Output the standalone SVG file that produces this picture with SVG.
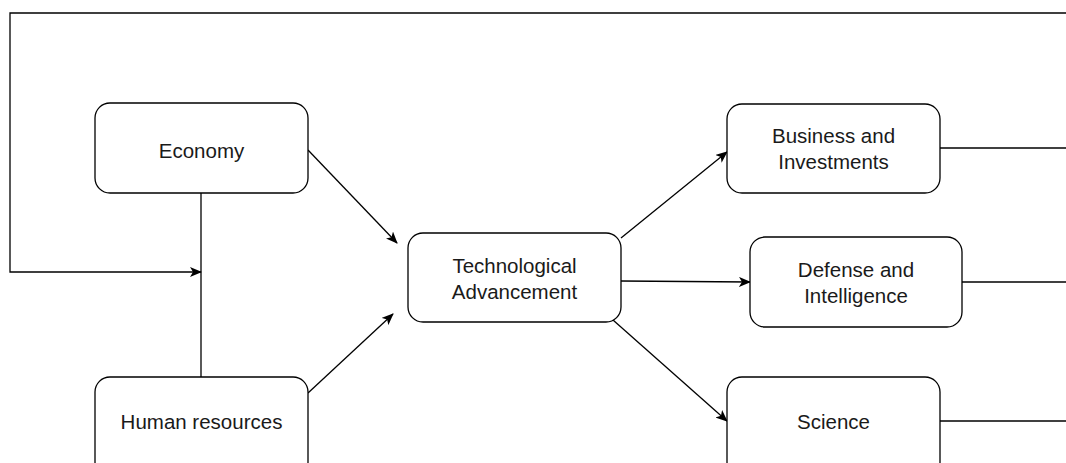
<svg xmlns="http://www.w3.org/2000/svg" width="1066" height="463" viewBox="0 0 1066 463">
<style>
.box{fill:#fff;stroke:#000;stroke-width:1.3}
.t{font-family:"Liberation Sans",Arial,sans-serif;font-size:20.5px;fill:#1a1a1a;text-anchor:middle}
.c{fill:none;stroke:#000;stroke-width:1.3}
</style>
<defs>
<marker id="ah" viewBox="0 0 12 10" refX="11" refY="5" markerWidth="12" markerHeight="10" markerUnits="userSpaceOnUse" orient="auto">
<path d="M0,0 L12,5 L0,10 L3,5 Z" fill="#000"/>
</marker>
</defs>
<rect width="1066" height="463" fill="#fff"/>
<g id="connectors">
<path class="c" d="M1066,13 L10,13 L10,272 L201,272" marker-end="url(#ah)"/>
<path class="c" d="M201,193 L201,377"/>
<path class="c" d="M308,150 L397,243" marker-end="url(#ah)"/>
<path class="c" d="M308,393 L393,314" marker-end="url(#ah)"/>
<path class="c" d="M621,238 L727,152" marker-end="url(#ah)"/>
<path class="c" d="M621,281 L750,282" marker-end="url(#ah)"/>
<path class="c" d="M613,320 L727,421" marker-end="url(#ah)"/>
<path class="c" d="M940,148 L1066,148"/>
<path class="c" d="M962,282 L1066,282"/>
<path class="c" d="M940,421 L1066,421"/>
</g>
<g id="economy">
<rect class="box" x="95" y="103" width="213" height="90" rx="15"/>
<text class="t" x="201.5" y="157.5">Economy</text>
</g>
<g id="human-resources">
<rect class="box" x="95" y="377" width="213" height="100" rx="15"/>
<text class="t" x="201.5" y="428.5">Human resources</text>
</g>
<g id="tech">
<rect class="box" x="408" y="233" width="213" height="89" rx="15"/>
<text class="t" x="514.5" y="272.5">Technological</text>
<text class="t" x="514.5" y="298.5">Advancement</text>
</g>
<g id="business">
<rect class="box" x="727" y="104" width="213" height="89" rx="15"/>
<text class="t" x="833.5" y="142.5">Business and</text>
<text class="t" x="833.5" y="168.5">Investments</text>
</g>
<g id="defense">
<rect class="box" x="750" y="237" width="212" height="90" rx="15"/>
<text class="t" x="856" y="276.5">Defense and</text>
<text class="t" x="856" y="302.5">Intelligence</text>
</g>
<g id="science">
<rect class="box" x="727" y="377" width="213" height="100" rx="15"/>
<text class="t" x="833.5" y="428.5">Science</text>
</g>
</svg>
